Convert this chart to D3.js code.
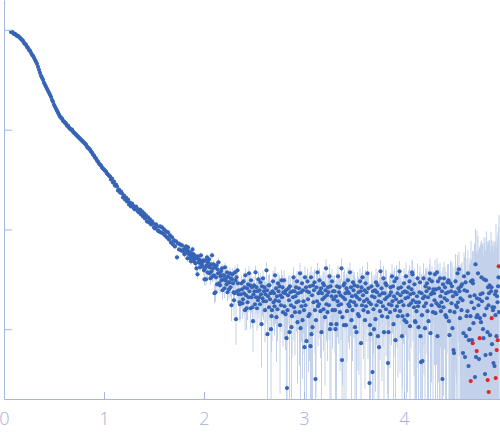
<!DOCTYPE html>
<html><head><meta charset="utf-8">
<script src="https://cdn.jsdelivr.net/npm/d3@7"></script>
<style>html,body{margin:0;padding:0;background:#fff;}svg{display:block;}</style>
</head><body>
<svg id="chart" width="500" height="437"></svg>
<script>
// ---- DATA ----
// low-q segment: q grid start/step, log10 intensity, relative error (%)
const qLowStart = 0.07, qLowStep = 0.01;
const logILow = [
-0.02,-0.02,-0.03,-0.04,-0.04,-0.05,-0.06,-0.06,-0.07,-0.08,
-0.09,-0.10,-0.11,-0.13,-0.14,-0.15,-0.17,-0.18,-0.20,-0.21,
-0.23,-0.25,-0.26,-0.28,-0.30,-0.32,-0.34,-0.37,-0.40,-0.43,
-0.46,-0.48,-0.50,-0.53,-0.55,-0.57,-0.59,-0.61,-0.63,-0.65,
-0.67,-0.70,-0.72,-0.75,-0.77,-0.79,-0.81,-0.83,-0.85,-0.87,
-0.88,-0.89,-0.91,-0.92,-0.93,-0.94,-0.96,-0.96,-0.98,-0.99,
-1.00,-1.00,-1.02,-1.03,-1.04,-1.05,-1.06,-1.07,-1.08,-1.09,
-1.10,-1.11,-1.12,-1.13,-1.14,-1.15,-1.17,-1.18,-1.19,-1.20,
-1.22,-1.23,-1.25,-1.26,-1.28,-1.29,-1.31,-1.32,-1.34,-1.35,
-1.36,-1.38,-1.39,-1.40,-1.41,-1.42,-1.44,-1.45,-1.46,-1.47,
-1.50,-1.49,-1.53,-1.52,-1.56,-1.55,-1.57,-1.61,-1.60,-1.63,
-1.62,-1.64,-1.68,-1.66,-1.70,-1.68,-1.72,-1.70,-1.75,-1.73,
-1.77,-1.74,-1.76,-1.79,-1.80,-1.77,-1.79,-1.82,-1.83,-1.80,
-1.85,-1.82,-1.87,-1.84,-1.89,-1.86,-1.92,-1.88,-1.93,-1.90,
-1.95,-1.92,-1.94,-1.98,-1.99,-1.95,-1.97,-2.01,-2.02,-1.97,
-2.03,-1.98,-2.04,-2.00,-2.06,-2.02,-2.08,-2.03,-2.10,-2.06,
-2.13,-2.08,-2.15,-2.11,-2.17,-2.12,-2.28,-2.14,-2.20,-2.15,
-2.21,-2.16,-2.22];
const errLowPct = [
1,1,1,1,1,1,1,1,1,1, 1,1,1,1,1,1,1,1,1,1, 1,1,1,1,1,1,1,1,1,1,
1,1,1,1,1,1,1,1,1,1, 1,1,1,1,1,1,1,1,1,1, 1,1,1,1,1,1,1,1,1,1,
1,1,1,1,1,1,1,1,1,1, 1,1,1,1,1,1,1,1,1,1, 1,1,1,1,1,1,1,1,1,
3,3,3,3,3,3,3,3,3,3, 3,3,3,3,3,3,3,3,3,3, 3,3,3,3,3,3,3,3,3,3,
3,3,3,3,3,3,3,3,3,3, 3,3,3,3,3,3,3,3,3,3,
5,6,5,7,6,5,6,7,5,6, 6,5,7,6,5,6,7,6,5,6, 7,6,5,6,7,6,5,7,6,6, 7,6,7,8];

// high-q segment: q grid start/step, log10 intensity, log10 sigma
const qHighStart = 1.80, qHighStep = 0.005;
const logIHigh = [
-2.20,-2.25,-2.19,-2.21,-2.17,-2.23,-2.21,-2.29,-2.18,-2.22,
-2.25,-2.23,-2.29,-2.26,-2.32,-2.24,-2.27,-2.20,-2.29,-2.25,
-2.32,-2.26,-2.29,-2.34,-2.28,-2.39,-2.29,-2.45,-2.27,-2.33,
-2.30,-2.33,-2.38,-2.32,-2.26,-2.35,-2.33,-2.37,-2.31,-2.32,
-2.41,-2.50,-2.39,-2.31,-2.50,-2.36,-2.28,-2.43,-2.33,-2.37,
-2.30,-2.44,-2.38,-2.49,-2.35,-2.42,-2.26,-2.47,-2.39,-2.35,
-2.46,-2.64,-2.38,-2.63,-2.48,-2.36,-2.55,-2.40,-2.44,-2.33,
-2.54,-2.44,-2.56,-2.47,-2.42,-2.51,-2.39,-2.61,-2.46,-2.50,
-2.46,-2.59,-2.38,-2.51,-2.49,-2.55,-2.43,-2.63,-2.47,-2.53,
-2.60,-2.53,-2.44,-2.58,-2.49,-2.76,-2.50,-2.45,-2.54,-2.63,
-2.71,-2.64,-2.43,-2.51,-2.90,-2.48,-2.62,-2.41,-2.54,-2.65,
-2.61,-2.73,-2.75,-2.74,-2.65,-2.54,-2.60,-2.74,-2.70,-2.52,
-2.64,-2.58,-2.81,-2.46,-2.66,-2.79,-2.59,-2.73,-2.55,-2.68,
-2.44,-2.62,-2.56,-2.79,-2.51,-2.68,-2.58,-2.78,-2.92,-2.65,
-2.56,-2.62,-2.75,-2.43,-2.68,-2.58,-2.79,-2.62,-2.71,-2.50,
-2.68,-2.61,-2.75,-2.53,-2.65,-2.95,-2.57,-2.69,-2.49,-2.72,
-2.62,-2.58,-2.81,-2.65,-2.72,-2.41,-2.61,-3.05,-2.67,-2.56,
-2.78,-2.56,-2.70,-2.64,-3.00,-2.87,-2.81,-2.62,-2.52,-2.73,
-2.64,-2.77,-2.46,-2.71,-2.59,-2.88,-2.67,-2.80,-2.54,-2.62,
-2.72,-2.57,-2.96,-2.66,-2.76,-2.51,-2.68,-2.58,-2.83,-2.63,
-2.51,-2.77,-2.64,-2.85,-2.61,-3.09,-3.59,-2.81,-2.66,-2.59,
-2.71,-3.03,-2.57,-2.63,-2.76,-2.98,-2.87,-2.62,-2.68,-2.48,
-2.78,-2.62,-2.83,-2.67,-2.58,-2.73,-2.52,-2.93,-2.64,-2.72,
-2.59,-2.83,-2.44,-2.99,-2.63,-2.77,-2.54,-2.91,-2.61,-2.72,
-2.81,-3.18,-2.48,-2.76,-2.58,-3.12,-2.62,-2.52,-2.70,-2.87,
-2.63,-2.85,-2.57,-3.17,-2.48,-3.05,-2.66,-2.98,-2.56,-2.73,
-2.61,-2.53,-2.81,-3.50,-2.91,-2.58,-2.72,-2.43,-2.77,-2.64,
-2.75,-2.51,-2.62,-2.82,-2.59,-3.03,-2.64,-2.70,-2.54,-2.80,
-2.56,-2.68,-2.88,-2.61,-2.39,-2.75,-2.66,-2.83,-2.58,-2.63,
-2.76,-2.47,-3.00,-2.57,-2.95,-2.67,-2.52,-2.81,-2.62,-2.70,
-2.70,-2.62,-2.81,-3.00,-2.67,-2.95,-2.57,-2.72,-2.47,-2.76,
-2.63,-2.58,-2.83,-2.66,-2.75,-2.39,-3.31,-2.88,-2.68,-2.56,
-2.96,-2.54,-2.70,-2.64,-2.96,-2.59,-2.82,-2.62,-2.51,-2.75,
-2.64,-2.77,-2.43,-2.72,-2.58,-2.91,-2.67,-2.81,-2.53,-2.61,
-2.73,-2.56,-2.98,-2.66,-2.76,-3.03,-2.68,-2.57,-2.85,-2.63,
-2.87,-2.70,-2.52,-2.62,-3.14,-2.58,-2.76,-2.48,-2.66,-2.81,
-2.72,-2.61,-2.91,-2.54,-2.77,-2.63,-2.70,-2.44,-2.83,-2.59,
-2.73,-3.54,-2.96,-3.05,-2.75,-2.57,-2.67,-3.43,-2.62,-2.80,
-3.00,-2.68,-2.61,-2.90,-2.53,-2.76,-2.63,-2.56,-3.07,-2.72,
-3.18,-2.66,-2.82,-2.42,-2.73,-2.59,-2.87,-2.64,-2.77,-2.49,
-3.03,-2.64,-2.70,-2.54,-2.80,-2.56,-2.68,-2.88,-3.34,-3.03,
-2.75,-2.66,-2.83,-2.58,-2.63,-2.76,-2.47,-2.72,-2.57,-2.95,
-2.67,-2.52,-2.81,-3.11,-2.70,-2.49,-2.77,-2.64,-2.87,-2.59,
-2.73,-2.42,-2.82,-2.66,-2.58,-2.72,-3.07,-2.87,-2.63,-2.76,
-2.54,-2.91,-2.62,-2.69,-2.47,-2.93,-2.63,-2.86,-2.68,-2.58,
-2.76,-2.52,-2.97,-2.65,-2.74,-2.60,-2.43,-2.45,-2.71,-2.64,
-2.78,-2.55,-2.92,-2.93,-2.73,-2.82,-2.67,-2.49,-2.77,-2.98,
-2.73,-2.63,-2.53,-3.07,-3.33,-2.64,-2.86,-3.32,-2.69,-2.49,
-2.77,-2.67,-2.99,-2.57,-2.74,-2.62,-2.54,-2.82,-2.68,-2.92,
-2.59,-2.50,-2.44,-3.04,-2.65,-2.76,-2.52,-2.63,-2.83,-2.60,
-2.64,-2.71,-2.45,-2.84,-2.60,-2.74,-2.43,-3.07,-2.52,-2.76,
-2.59,-2.77,-2.49,-2.67,-2.82,-2.73,-2.62,-3.50,-2.55,-2.78,
-2.49,-2.69,-2.58,-2.86,-2.64,-2.88,-2.71,-2.53,-2.63,-2.51,
-2.92,-3.06,-2.82,-2.54,-2.62,-2.74,-2.57,-2.99,-2.67,-3.21,
-3.24,-2.83,-2.63,-2.52,-2.76,-2.65,-2.78,-2.44,-2.73,-2.59,
-2.40,-2.62,-2.89,-2.69,-2.57,-2.81,-2.55,-2.71,-3.24,-3.04,
-2.47,-2.61,-3.28,-2.53,-3.07,-2.87,-2.62,-2.82,-2.44,-3.37,
-3.11,-3.00,-2.67,-2.87,-2.52,-2.73,-3.11,-2.51,-2.54,-2.94,
-2.79,-2.66,-3.48,-2.35,-3.28,-2.88,-2.69,-2.86,-2.44,-2.76,
-3.30,-2.70,-2.89,-2.65,-2.93,-2.48,-2.72,-2.64,-3.00,-3.09,
-2.50,-2.86,-3.45,-3.26,-2.51,-2.79,-2.69,-3.03,-2.58,-2.76,
-2.64,-2.56,-3.06,-3.25,-2.62,-2.58,-3.15,-2.78,-2.81,-3.34,
-2.78,-3.37,-2.65,-2.86,-2.62,-3.07,-2.67,-2.73,-2.57,-2.48,
-2.83];
const logSigmaHigh = [
-3.40,-3.38,-3.42,-3.39,-3.43,-3.37,-3.41,-3.38,-3.42,-3.40,
-3.39,-3.42,-3.37,-3.40,-3.41,-3.38,-3.43,-3.39,-3.40,-3.42,
-3.41,-3.37,-3.40,-3.42,-3.38,-3.41,-3.39,-3.43,-3.38,-3.39,
-3.39,-3.37,-3.41,-3.38,-3.42,-3.36,-3.40,-3.37,-3.41,-3.39,
-3.35,-3.38,-3.33,-3.36,-3.37,-3.34,-3.39,-3.35,-3.36,-3.38,
-3.36,-3.32,-3.35,-3.37,-3.33,-3.36,-3.34,-3.38,-3.33,-3.34,
-3.34,-3.32,-3.36,-3.33,-3.37,-3.31,-3.35,-3.32,-3.36,-3.34,
-3.32,-3.35,-3.30,-3.33,-3.34,-3.31,-3.36,-3.32,-3.33,-3.35,
-3.33,-3.29,-3.32,-3.34,-3.30,-3.33,-3.31,-3.35,-3.30,-3.31,
-3.30,-3.28,-3.32,-3.29,-3.33,-3.27,-3.31,-3.28,-3.32,-3.30,
-3.23,-3.26,-3.21,-3.24,-3.25,-3.22,-3.27,-3.23,-3.24,-3.26,
-3.24,-3.20,-3.23,-3.25,-3.21,-3.24,-3.22,-3.26,-3.21,-3.22,
-3.22,-3.20,-3.24,-3.21,-3.25,-3.19,-3.23,-3.20,-3.24,-3.22,
-3.20,-3.23,-3.18,-3.21,-3.22,-3.19,-3.24,-3.20,-3.21,-3.23,
-3.20,-3.16,-3.19,-3.21,-3.17,-3.20,-3.18,-3.22,-3.17,-3.18,
-3.18,-3.16,-3.20,-3.17,-3.21,-3.15,-3.19,-3.16,-3.20,-3.18,
-3.11,-3.14,-3.09,-3.12,-3.13,-3.10,-3.15,-3.11,-3.12,-3.14,
-3.12,-3.08,-3.11,-3.13,-3.09,-3.12,-3.10,-3.14,-3.09,-3.10,
-3.10,-3.08,-3.12,-3.09,-3.13,-3.07,-3.11,-3.08,-3.12,-3.10,
-3.08,-3.11,-3.06,-3.09,-3.10,-3.07,-3.12,-3.08,-3.09,-3.11,
-3.09,-3.05,-3.08,-3.10,-3.06,-3.09,-3.07,-3.11,-3.06,-3.07,
-3.07,-3.05,-3.09,-3.06,-3.10,-3.04,-3.08,-3.05,-3.09,-3.07,
-3.05,-3.08,-3.03,-3.06,-3.07,-3.04,-3.09,-3.05,-3.06,-3.08,
-3.02,-2.98,-3.01,-3.03,-2.99,-3.02,-3.00,-3.04,-2.99,-3.00,
-3.01,-2.99,-3.03,-3.00,-3.04,-2.98,-3.02,-2.99,-3.03,-3.01,
-3.00,-3.03,-2.98,-3.01,-3.02,-2.99,-3.04,-3.00,-3.01,-3.03,
-3.02,-2.98,-3.01,-3.03,-2.99,-3.02,-3.00,-3.04,-2.99,-3.00,
-3.01,-2.99,-3.03,-3.00,-3.04,-2.98,-3.02,-2.99,-3.03,-3.01,
-3.00,-3.03,-2.98,-3.01,-3.02,-2.99,-3.04,-3.00,-3.01,-3.03,
-3.02,-2.98,-3.01,-3.03,-2.99,-3.02,-3.00,-3.04,-2.99,-3.00,
-2.99,-2.97,-3.01,-2.98,-3.02,-2.96,-3.00,-2.97,-3.01,-2.99,
-2.98,-3.01,-2.96,-2.99,-3.00,-2.97,-3.02,-2.98,-2.99,-3.01,
-3.00,-2.96,-2.99,-3.01,-2.97,-3.00,-2.98,-3.02,-2.97,-2.98,
-2.99,-2.97,-3.01,-2.98,-3.02,-2.96,-3.00,-2.97,-3.01,-2.99,
-2.98,-3.01,-2.96,-2.99,-3.00,-2.97,-3.02,-2.98,-2.99,-3.01,
-3.00,-2.96,-2.99,-3.01,-2.97,-3.00,-2.98,-3.02,-2.97,-2.98,
-2.99,-2.97,-3.01,-2.98,-3.02,-2.96,-3.00,-2.97,-3.01,-2.99,
-2.96,-2.99,-2.94,-2.97,-2.98,-2.95,-3.00,-2.96,-2.97,-2.99,
-2.98,-2.94,-2.97,-2.99,-2.95,-2.98,-2.96,-3.00,-2.95,-2.96,
-2.97,-2.95,-2.99,-2.96,-3.00,-2.94,-2.98,-2.95,-2.99,-2.97,
-2.96,-2.99,-2.94,-2.97,-2.98,-2.95,-3.00,-2.96,-2.97,-2.99,
-2.98,-2.94,-2.97,-2.99,-2.95,-2.98,-2.96,-3.00,-2.95,-2.96,
-2.97,-2.95,-2.99,-2.96,-3.00,-2.94,-2.98,-2.95,-2.99,-2.97,
-2.96,-2.99,-2.94,-2.97,-2.98,-2.95,-3.00,-2.96,-2.97,-2.99,
-2.92,-2.88,-2.91,-2.93,-2.89,-2.92,-2.90,-2.94,-2.89,-2.90,
-2.90,-2.88,-2.92,-2.89,-2.93,-2.87,-2.91,-2.88,-2.92,-2.90,
-2.88,-2.91,-2.86,-2.89,-2.90,-2.87,-2.92,-2.88,-2.89,-2.91,
-2.89,-2.85,-2.88,-2.90,-2.86,-2.89,-2.87,-2.91,-2.86,-2.87,
-2.87,-2.85,-2.89,-2.86,-2.90,-2.84,-2.88,-2.85,-2.89,-2.87,
-2.85,-2.88,-2.83,-2.86,-2.87,-2.84,-2.89,-2.85,-2.86,-2.88,
-2.86,-2.82,-2.85,-2.87,-2.83,-2.86,-2.84,-2.88,-2.83,-2.84,
-2.84,-2.82,-2.86,-2.83,-2.87,-2.81,-2.85,-2.82,-2.86,-2.84,
-2.82,-2.85,-2.80,-2.83,-2.84,-2.81,-2.86,-2.82,-2.83,-2.85,
-2.74,-2.70,-2.76,-2.72,-2.62,-2.75,-2.71,-2.73,-2.69,-2.74,
-2.72,-2.75,-2.70,-2.58,-2.73,-2.71,-2.76,-2.72,-2.69,-2.74,
-2.70,-2.73,-2.68,-2.71,-2.74,-2.55,-2.72,-2.69,-2.73,-2.70,
-2.60,-2.55,-2.62,-2.40,-2.58,-2.61,-2.56,-2.63,-2.59,-2.57,
-2.50,-2.46,-2.52,-2.48,-2.33,-2.51,-2.47,-2.53,-2.49,-2.45,
-2.36,-2.30,-2.40,-2.25,-2.38,-2.33,-2.12,-2.37,-2.31,-2.35,
-2.30,-2.34,-2.26,-2.32,-2.20,-2.35,-2.28,-2.31,-2.24,-2.33,
-2.28,-2.22,-2.31,-2.25,-2.29,-2.10,-2.27,-2.23,-2.30,-2.26,
-2.26,-2.30,-2.22,-2.27,-2.15,-2.28,-2.24,-2.29,-2.21,-2.25,
-2.24,-2.20,-2.27,-2.22,-2.05,-2.25,-2.21,-2.26,-2.18,-2.23,
-1.90];

// points flagged red (|I| of negative intensities)
const redQ = [4.667,4.687,4.727,4.757,4.837,4.847,4.877,4.917,4.927,4.937,4.947];
const redLogI = [-3.52,-3.14,-3.22,-3.09,-3.51,-3.63,-2.89,-3.49,-3.21,-3.11,-2.37];
const redLogSigma = [-2.35,-2.30,-2.28,-2.32,-2.26,-2.30,-2.24,-2.27,-2.22,-2.25,-2.20];

const xTicks = [0, 1, 2, 3, 4];
const yTicks = [1, 0.1, 0.01, 0.001];

// ---- BUILD ----
const pts = [];
logILow.forEach((v, i) => {
  const I = Math.pow(10, v);
  pts.push({q: +(qLowStart + i * qLowStep).toFixed(4), I, s: I * errLowPct[i] / 100});
});
logIHigh.forEach((v, i) => {
  pts.push({q: +(qHighStart + i * qHighStep).toFixed(4), I: Math.pow(10, v), s: Math.pow(10, logSigmaHigh[i])});
});
const red = redQ.map((q, i) => ({q, I: Math.pow(10, redLogI[i]), s: Math.pow(10, redLogSigma[i])}));

const x = d3.scaleLinear().domain([0, 4.96]).range([4, 500]);
const y = d3.scaleLog().domain([Math.pow(10, -3.7), Math.pow(10, 0.3)]).range([399, 0]);
const bottom = 399;

const svg = d3.select('#chart');
svg.append('defs').append('clipPath').attr('id', 'clip')
  .append('rect').attr('x', 4).attr('y', 0).attr('width', 496).attr('height', bottom);

const plot = svg.append('g').attr('clip-path', 'url(#clip)');
const all = pts.concat(red);
const ey = (d) => [y(d.I + d.s), d.I - d.s > 0 ? Math.min(bottom, y(d.I - d.s)) : bottom];

plot.append('g').selectAll('line').data(all).join('line')
  .attr('x1', d => x(d.q)).attr('x2', d => x(d.q))
  .attr('y1', d => ey(d)[0]).attr('y2', d => ey(d)[1])
  .attr('stroke', '#c3d2ea').attr('stroke-width', 1);

plot.append('g').selectAll('circle').data(pts).join('circle')
  .attr('cx', d => x(d.q)).attr('cy', d => y(d.I)).attr('r', 2.1)
  .attr('fill', '#3664b6');

plot.append('g').selectAll('circle').data(red).join('circle')
  .attr('cx', d => x(d.q)).attr('cy', d => y(d.I)).attr('r', 2.1)
  .attr('fill', '#e3262b');

const axisColor = '#a3b7e0';
const gx = svg.append('g').attr('transform', `translate(0,${bottom})`)
  .call(d3.axisBottom(x).tickValues(xTicks).tickSizeInner(-7).tickSizeOuter(0).tickPadding(13).tickFormat(d3.format('d')));
const gy = svg.append('g').attr('transform', 'translate(4,0)')
  .call(d3.axisRight(y).tickValues(yTicks).tickSizeInner(8).tickSizeOuter(0).tickFormat(''));
[gx, gy].forEach(g => {
  g.select('.domain').attr('stroke', axisColor);
  g.selectAll('.tick line').attr('stroke', axisColor);
});
gx.selectAll('text').attr('fill', '#9fb3de')
  .style('font-family', '"Open Sans", "DejaVu Sans", sans-serif')
  .style('font-weight', 300).style('font-size', '18px');
</script>
</body></html>
